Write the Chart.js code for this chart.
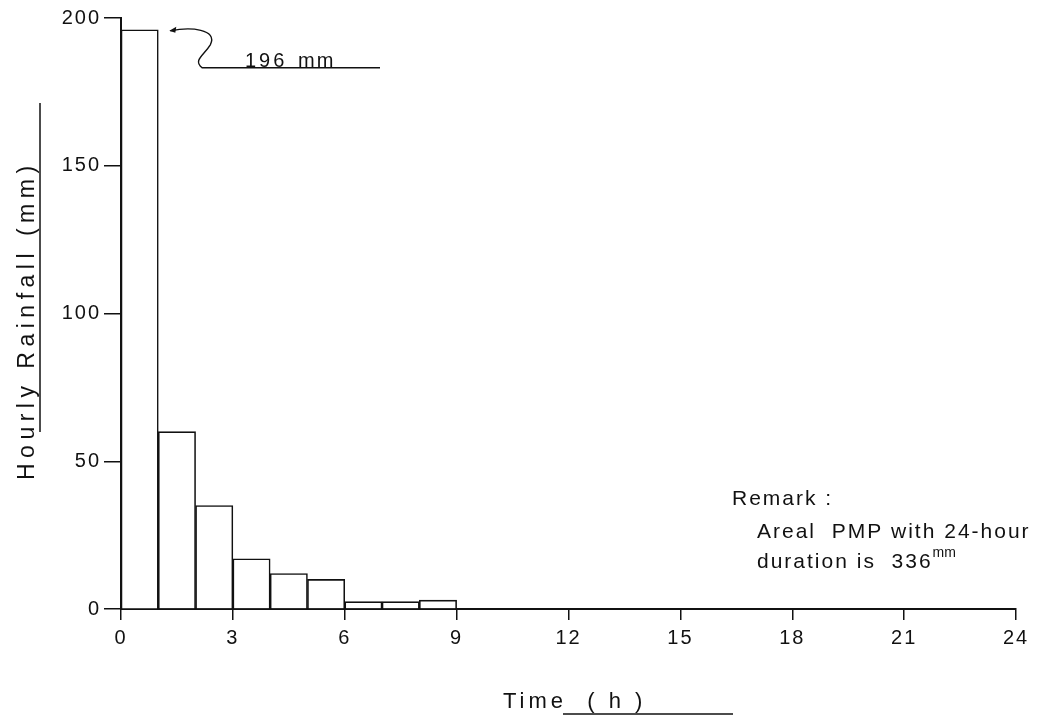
<!DOCTYPE html>
<html>
<head>
<meta charset="utf-8">
<script src="https://cdn.jsdelivr.net/npm/chart.js@4.4.1/dist/chart.umd.min.js"></script>
<style>
  body { margin: 0; background: #fff; }
  #wrap { width: 1042px; height: 717px; }
</style>
</head>
<body>
<div id="wrap"><canvas id="rainChart" width="1042" height="717"></canvas></div>
<script>
// hourly rainfall of the 24-hour areal PMP (mm), one bar per hour
var hourStart = [0, 1, 2, 3, 4, 5, 6, 7, 8, 9, 10, 11, 12, 13, 14, 15, 16, 17, 18, 19, 20, 21, 22, 23];
var rainfall = [196, 60, 35, 17, 12, 10, 2.5, 2.5, 3, 0, 0, 0, 0, 0, 0, 0, 0, 0, 0, 0, 0, 0, 0, 0];
var xTicks = [0, 3, 6, 9, 12, 15, 18, 21, 24];
var yTicks = [0, 50, 100, 150, 200];

var tickFont = { family: 'Liberation Sans', size: 20 };
var ink = '#111';

// bars sit between hour h and h+1
var points = hourStart.map(function (h, i) {
    return { x: h + 0.5, y: rainfall[i] };
});

// wider spacing for the tick digits, like the scanned lettering
var spacing = {
    id: 'spacing',
    beforeDraw: function (chart) {
        chart.ctx.letterSpacing = '2px';
    }
};

// titles, remark and the 196 mm callout
var notes = {
    id: 'notes',
    afterDraw: function (chart) {
        var c = chart.ctx;
        var xs = chart.scales.x, ys = chart.scales.y;
        c.save();
        c.fillStyle = ink;
        c.strokeStyle = ink;
        c.textBaseline = 'alphabetic';
        c.textAlign = 'left';

        // y title, rotated, with its line
        c.save();
        c.translate(34, 480);
        c.rotate(-Math.PI / 2);
        c.font = '23px "Liberation Sans"';
        c.letterSpacing = '5.5px';
        c.fillText('Hourly Rainfall (mm)', 0, 0);
        c.restore();
        c.lineWidth = 1.5;
        c.beginPath();
        c.moveTo(40, 103);
        c.lineTo(40, 432);
        c.stroke();

        // x title with underline
        c.font = '22px "Liberation Sans"';
        c.letterSpacing = '4px';
        c.fillText('Time  ( h )', 503, 708);
        c.beginPath();
        c.moveTo(563, 714);
        c.lineTo(733, 714);
        c.stroke();

        // callout for the first bar
        var tipX = xs.getPixelForValue(1) + 12;
        var tipY = ys.getPixelForValue(rainfall[0]) + 1;
        c.lineWidth = 1.4;
        c.beginPath();
        c.moveTo(tipX, tipY);
        c.bezierCurveTo(tipX + 20, tipY - 4, tipX + 48, tipY - 2, tipX + 40, tipY + 14);
        c.bezierCurveTo(tipX + 34, tipY + 24, tipX + 22, tipY + 30, tipX + 32, tipY + 37);
        c.lineTo(380, tipY + 37);
        c.stroke();
        c.beginPath();
        c.moveTo(tipX - 1, tipY);
        c.lineTo(tipX + 6, tipY - 4);
        c.lineTo(tipX + 5, tipY + 2);
        c.closePath();
        c.fill();
        c.font = '20px "Liberation Sans"';
        c.letterSpacing = '3px';
        c.fillText('196', 245, 67);
        c.letterSpacing = '2px';
        c.fillText('mm', 298, 67);

        // remark
        c.font = '21px "Liberation Sans"';
        c.letterSpacing = '2px';
        c.fillText('Remark :', 732, 505);
        c.fillText('Areal  PMP with 24-hour', 757, 538);
        c.fillText('duration is  336', 757, 568);
        var w = c.measureText('duration is  336').width;
        c.font = '14px "Liberation Sans"';
        c.letterSpacing = '0px';
        c.fillText('mm', 757 + w, 557);
        c.restore();
    }
};

var ctx = document.getElementById('rainChart').getContext('2d');
var myChart = new Chart(ctx, {
    type: 'bar',
    data: {
        datasets: [{
            label: 'Hourly Rainfall (mm)',
            data: points,
            backgroundColor: '#fff',
            borderColor: ink,
            borderWidth: 1.6,
            barPercentage: 1,
            categoryPercentage: 1
        }]
    },
    options: {
        responsive: false,
        animation: false,
        devicePixelRatio: 1,
        layout: { padding: { left: 0, top: 18, right: 26, bottom: 0 } },
        plugins: {
            legend: { display: false },
            tooltip: { enabled: false }
        },
        scales: {
            x: {
                type: 'linear',
                min: 0,
                max: 24,
                offset: false,
                afterFit: function (scale) { scale.height = 108; },
                afterBuildTicks: function (scale) {
                    scale.ticks = xTicks.map(function (v) { return { value: v }; });
                },
                grid: { display: true, drawOnChartArea: false, drawTicks: true, tickLength: 11, color: ink, lineWidth: 1.5, offset: false },
                border: { display: true, color: ink, width: 2 },
                ticks: { color: ink, font: tickFont, padding: 6, maxRotation: 0, autoSkip: false }
            },
            y: {
                min: 0,
                max: 200,
                afterFit: function (scale) { scale.width = 121; },
                afterBuildTicks: function (scale) {
                    scale.ticks = yTicks.map(function (v) { return { value: v }; });
                },
                grid: { display: true, drawOnChartArea: false, drawTicks: true, tickLength: 17, color: ink, lineWidth: 1.5 },
                border: { display: true, color: ink, width: 2 },
                ticks: { color: ink, font: tickFont, padding: 3 }
            }
        }
    },
    plugins: [spacing, notes]
});
</script>
</body>
</html>
